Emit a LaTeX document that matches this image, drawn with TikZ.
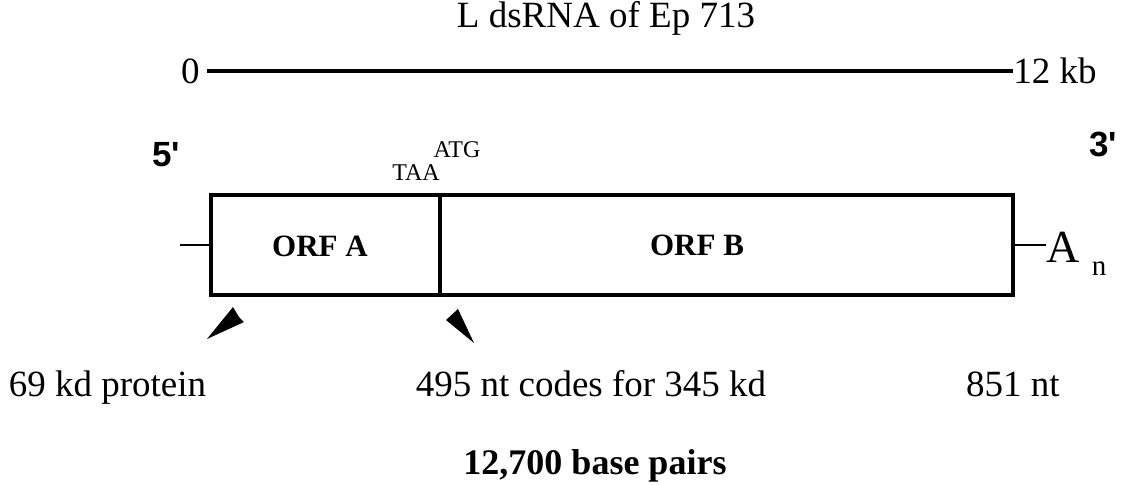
\documentclass[tikz,border=0pt]{standalone}
\usepackage{fontspec}
\setmainfont{Liberation Serif}
\newfontfamily\endfont{Liberation Sans}
\usetikzlibrary{arrows.meta, positioning}

\begin{document}
\begin{tikzpicture}[x=0.5pt, y=-0.5pt,
    orfbox/.style={draw, line width=2pt, minimum height=50pt, inner sep=0pt},
    lbl/.style={font=\fontsize{18.5}{20}\selectfont, inner sep=0pt, anchor=base},
    endlbl/.style={font=\endfont\bfseries\fontsize{17.5}{19}\selectfont, inner sep=0pt},
    codon/.style={font=\fontsize{12}{14}\selectfont, inner sep=0pt, anchor=base},
    orflbl/.style={font=\bfseries\fontsize{15.5}{17}\selectfont, inner sep=0pt}]
  \useasboundingbox (0,0) rectangle (1121,484);
  % scale bar
  \node[lbl] (title) at (606,27) {L dsRNA of Ep 713};
  \node[lbl, anchor=east, inner xsep=3.5pt] (zero) at (207,71) {0};
  \node[lbl, anchor=west] (kb) at (1013,71) {12 kb};
  \draw[line width=2pt] (zero.east) -- (kb.west);
  % genome
  \node[endlbl] (five) at (166,155) {5'};
  \node[endlbl] (three) at (1103,144) {3'};
  \node[codon] (atg) at (457,157) {ATG};
  \node[codon] (taa) at (416,180) {TAA};
  \node[orfbox, minimum width=114.5pt] (orfa) at (325.5,245) {};
  \node[orfbox, minimum width=286.5pt] (orfb) at (726.5,245) {};
  \node[orflbl] (orfatext) at (320,246) {ORF A};
  \node[orflbl] (orfbtext) at (697,245) {ORF B};
  \coordinate (fivend) at (180,245);
  \draw[line width=1pt] (fivend) -- (orfa.west);
  \node[font=\fontsize{23}{25}\selectfont, inner sep=0pt, anchor=west] (polya) at (1046,247) {A};
  \node[font=\fontsize{14.5}{16}\selectfont, inner sep=0pt] (polyn) at (1099,269) {n};
  \draw[line width=1pt] (orfb.east) -- (orfb.east -| polya.west);
  % markers
  \fill (233,307) -- (239,317) -- (244,322) -- (207,339) -- cycle;
  \fill (446,320) -- (458,309) -- (474,343) -- cycle;
  \node[lbl] (prot) at (107.5,396) {69 kd protein};
  \node[lbl] (codes) at (591,396) {495 nt codes for 345 kd};
  \node[lbl] (nt) at (1013,396) {851 nt};
  \node[lbl, font=\bfseries\fontsize{18}{20}\selectfont] (bp) at (595,474) {12,700 base pairs};
\end{tikzpicture}
\end{document}
